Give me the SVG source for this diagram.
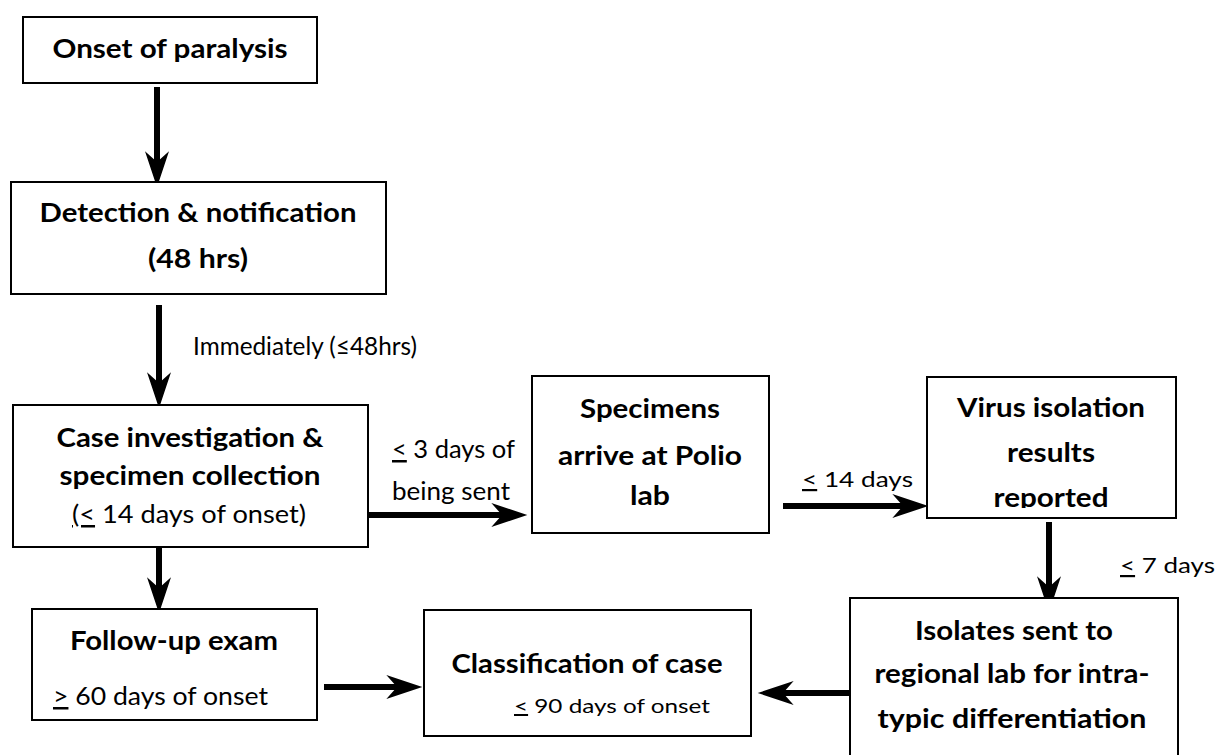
<svg xmlns="http://www.w3.org/2000/svg" width="1220" height="755" viewBox="0 0 1220 755">
<style>
.box{fill:#fff;stroke:#000;stroke-width:2}
.b{font-family:Lato,"Open Sans","Liberation Sans",sans-serif;font-weight:bold;font-size:26px;fill:#000}
.r{font-family:Lato,"Open Sans","Liberation Sans",sans-serif;font-weight:normal;font-size:25px;fill:#000}
.c{text-anchor:middle}
.u{text-decoration:underline}
.conn{stroke:#000;stroke-width:6;fill:none;marker-end:url(#ah)}
</style>
<defs>
<marker id="ah" markerUnits="userSpaceOnUse" markerWidth="40" markerHeight="30" viewBox="-12 -10 30 20" refX="0" refY="0" orient="auto" overflow="visible">
<path d="M16,0 L-11,-9 L-3,0 L-11,9 Z" fill="#000"/>
</marker>
<clipPath id="clip7"><rect x="927" y="377" width="249" height="131"/></clipPath>
</defs>
<rect width="1220" height="755" fill="#fff"/>

<g id="connectors">
<line class="conn" x1="157" y1="87" x2="157" y2="166"/>
<line class="conn" x1="159" y1="305" x2="159" y2="387"/>
<line class="conn" x1="368" y1="515" x2="506" y2="515"/>
<line class="conn" x1="159" y1="527" x2="159" y2="592"/>
<line class="conn" x1="324" y1="687" x2="401" y2="687"/>
<line class="conn" x1="783" y1="506" x2="907" y2="506"/>
<line class="conn" x1="1049" y1="522" x2="1049" y2="591"/>
<line class="conn" x1="850" y1="693" x2="779" y2="693"/>
</g>

<g id="labels">
<text class="r" x="193" y="355" textLength="224" lengthAdjust="spacingAndGlyphs">Immediately (≤48hrs)</text>
<text class="r" x="392" y="458" textLength="123" lengthAdjust="spacingAndGlyphs"><tspan class="u">&lt;</tspan> 3 days of</text>
<text class="r" x="392" y="500" textLength="118" lengthAdjust="spacingAndGlyphs">being sent</text>
<text class="r" x="802" y="487" style="font-size:22px" textLength="111" lengthAdjust="spacingAndGlyphs"><tspan class="u">&lt;</tspan> 14 days</text>
<text class="r" x="1120" y="573" style="font-size:22px" textLength="95" lengthAdjust="spacingAndGlyphs"><tspan class="u">&lt;</tspan> 7 days</text>
</g>

<g id="n1">
<rect class="box" x="23" y="17" width="294" height="66"/>
<text class="b c" x="170" y="58" textLength="235" lengthAdjust="spacingAndGlyphs">Onset of paralysis</text>
</g>

<g id="n2">
<rect class="box" x="11" y="182" width="375" height="112"/>
<text class="b c" x="198" y="222" textLength="317" lengthAdjust="spacingAndGlyphs">Detection &amp; notification</text>
<text class="b c" x="198" y="268" textLength="100" lengthAdjust="spacingAndGlyphs">(48 hrs)</text>
</g>

<g id="n3">
<rect class="box" x="13" y="405" width="355" height="142"/>
<text class="b c" x="190" y="447" textLength="267" lengthAdjust="spacingAndGlyphs">Case investigation &amp;</text>
<text class="b c" x="190" y="485" textLength="261" lengthAdjust="spacingAndGlyphs">specimen collection</text>
<text class="r c" x="189" y="523" textLength="234" lengthAdjust="spacingAndGlyphs"><tspan class="u">(&lt;</tspan> 14 days of onset)</text>
</g>

<g id="n4">
<rect class="box" x="32" y="609" width="285" height="111"/>
<text class="b c" x="174" y="650" textLength="208" lengthAdjust="spacingAndGlyphs">Follow-up exam</text>
<text class="r" x="53" y="705" textLength="215" lengthAdjust="spacingAndGlyphs"><tspan class="u">&gt;</tspan> 60 days of onset</text>
</g>

<g id="n5">
<rect class="box" x="424" y="610" width="327" height="126"/>
<text class="b c" x="587" y="673" textLength="271" lengthAdjust="spacingAndGlyphs">Classification of case</text>
<text class="r" x="514" y="713" style="font-size:20px" textLength="196" lengthAdjust="spacingAndGlyphs"><tspan class="u">&lt;</tspan> 90 days of onset</text>
</g>

<g id="n6">
<rect class="box" x="532" y="376" width="237" height="157"/>
<text class="b c" x="650" y="418" textLength="140" lengthAdjust="spacingAndGlyphs">Specimens</text>
<text class="b c" x="650" y="465" textLength="184" lengthAdjust="spacingAndGlyphs">arrive at Polio</text>
<text class="b c" x="650" y="505" textLength="40" lengthAdjust="spacingAndGlyphs">lab</text>
</g>

<g id="n7">
<rect class="box" x="927" y="377" width="249" height="141"/>
<text class="b c" x="1051" y="417" textLength="188" lengthAdjust="spacingAndGlyphs">Virus isolation</text>
<text class="b c" x="1051" y="462" textLength="88" lengthAdjust="spacingAndGlyphs">results</text>
<text class="b c" x="1051" y="507" textLength="115" lengthAdjust="spacingAndGlyphs" clip-path="url(#clip7)">reported</text>
</g>

<g id="n8">
<rect class="box" x="850" y="598" width="328" height="175"/>
<text class="b c" x="1014" y="640" textLength="198" lengthAdjust="spacingAndGlyphs">Isolates sent to</text>
<text class="b c" x="1012" y="683" textLength="275" lengthAdjust="spacingAndGlyphs">regional lab for intra-</text>
<text class="b c" x="1012" y="728" textLength="269" lengthAdjust="spacingAndGlyphs">typic differentiation</text>
</g>
</svg>
